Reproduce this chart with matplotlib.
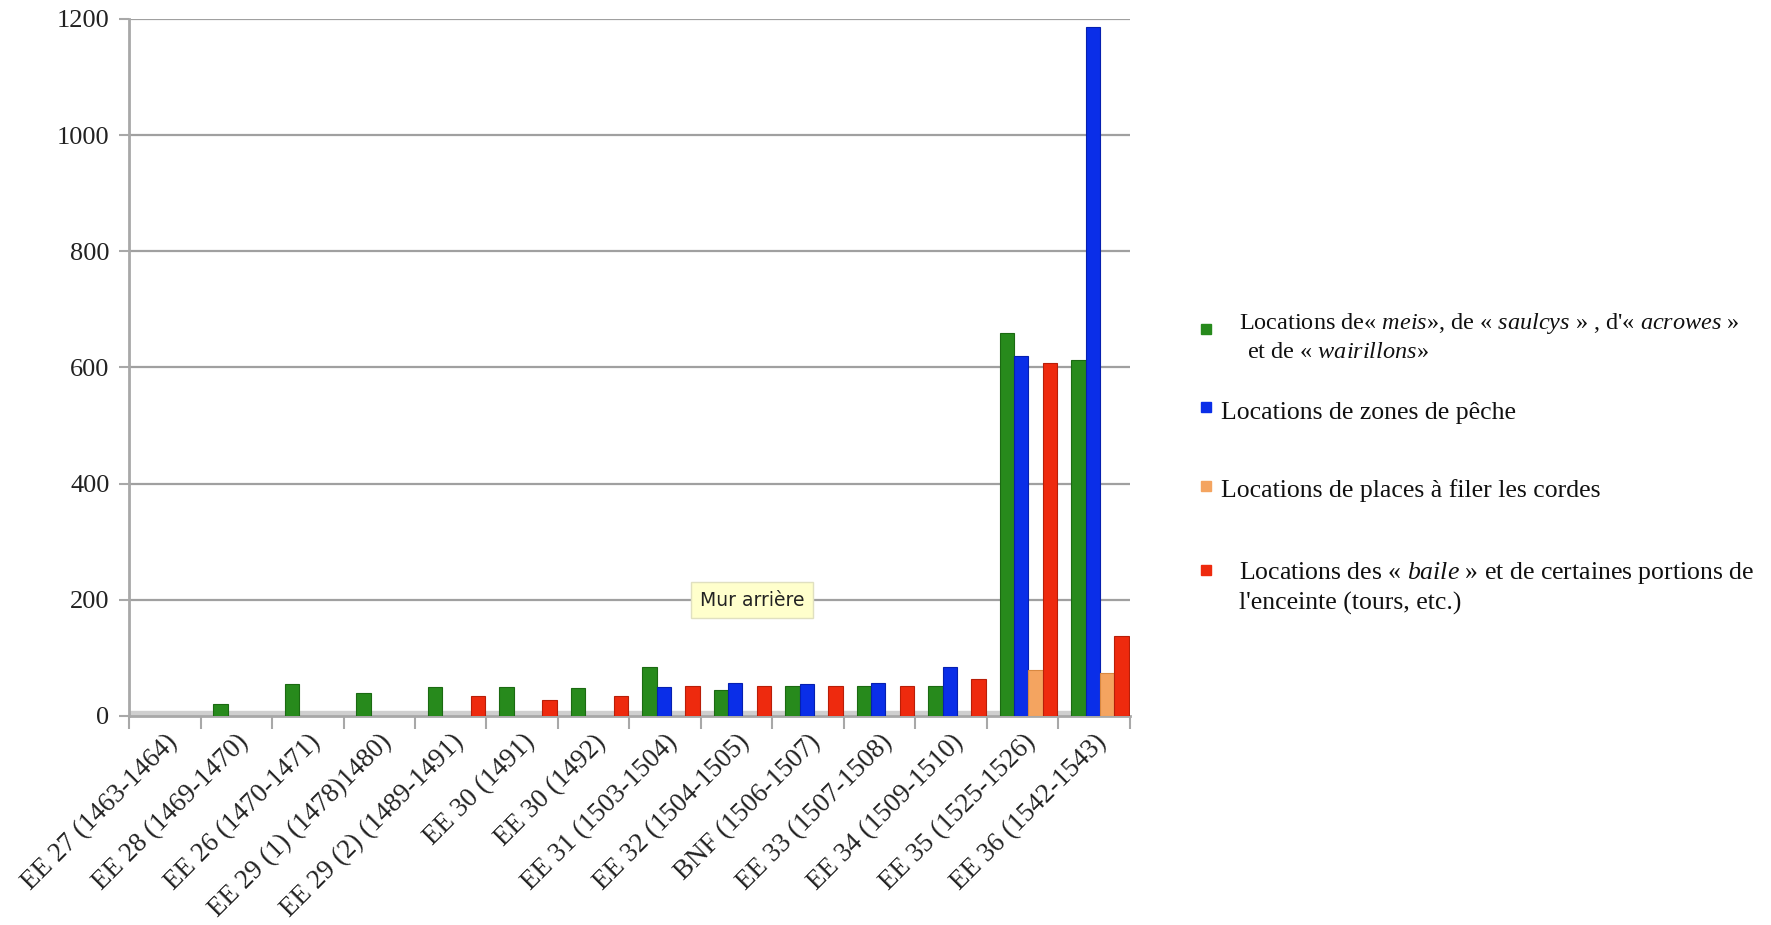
import numpy as np
import matplotlib
matplotlib.use('Agg')
import matplotlib.pyplot as plt
from matplotlib.patches import Rectangle

plt.rcParams['font.family'] = ['Liberation Serif', 'DejaVu Serif']
plt.rcParams['mathtext.fontset'] = 'custom'
plt.rcParams['mathtext.it'] = 'Liberation Serif:style=italic'
plt.rcParams['mathtext.rm'] = 'Liberation Serif'

categories = ['EE 27 (1463-1464)', 'EE 28 (1469-1470)', 'EE 26 (1470-1471)',
              'EE 29 (1) (1478)1480)', 'EE 29 (2) (1489-1491)', 'EE 30 (1491)',
              'EE 30 (1492)', 'EE 31 (1503-1504)', 'EE 32 (1504-1505)',
              'BNF (1506-1507)', 'EE 33 (1507-1508)', 'EE 34 (1509-1510)',
              'EE 35 (1525-1526)', 'EE 36 (1542-1543)']

meis = [0, 20, 55, 40, 50, 50, 48, 84, 45, 52, 52, 52, 660, 613]
peche = [0, 0, 0, 0, 0, 0, 0, 50, 56, 55, 56, 84, 620, 1186]
cordes = [0, 0, 0, 0, 0, 0, 0, 0, 0, 0, 0, 0, 80, 74]
baile = [0, 0, 0, 0, 35, 27, 35, 52, 52, 52, 52, 64, 607, 138]

series = [meis, peche, cordes, baile]
colors = ['#278a1c', '#0a2ee8', '#f4a460', '#ee2a0e']
edges = ['#1b6a12', '#0620b0', '#d98840', '#b81e08']

fig = plt.figure(figsize=(17.71, 9.25), dpi=100)
ax = fig.add_axes([129 / 1771, 1 - 716 / 925, 1001 / 1771, 697 / 925])

x = np.arange(len(categories))
w = 0.2
offsets = [-0.3, -0.1, 0.1, 0.3]
shift = 0.08

# floor of the 3D chart
ax.axhspan(0, 9, color='#cfcfcf', zorder=1)

for vals, off, c, ec in zip(series, offsets, colors, edges):
    v = np.array(vals, dtype=float)
    m = v > 0
    ax.bar(x[m] + off + shift, v[m], width=w, color=c, edgecolor=ec,
           linewidth=0.8, zorder=3)

ax.set_xlim(-0.5, len(categories) - 0.5)
ax.set_ylim(0, 1200)
ax.set_yticks(range(0, 1201, 200))
ax.yaxis.grid(True, color='#a0a0a0', linewidth=1.6, zorder=0)
ax.set_axisbelow(True)

for s in ['top', 'right']:
    ax.spines[s].set_visible(False)
ax.spines['left'].set_color('#a8a8a8')
ax.spines['left'].set_linewidth(2)
ax.spines['bottom'].set_color('#a8a8a8')
ax.spines['bottom'].set_linewidth(2)

ax.tick_params(axis='y', labelsize=19, colors='#a8a8a8', labelcolor='#222222',
               length=7, width=1.5, pad=7)
ax.set_xticks(x)
ax.set_xticklabels(categories, rotation=45, ha='right', rotation_mode='anchor',
                   fontsize=19.5, color='#222222')
ax.tick_params(axis='x', length=0, pad=10)
ax.set_xticks(np.arange(-0.5, len(categories)), minor=True)
ax.tick_params(axis='x', which='minor', length=9, width=1.5, color='#a8a8a8')

# tooltip
fig.text(752 / 1771, 1 - 600 / 925, 'Mur arri\u00e8re', family='DejaVu Sans',
         fontsize=13.5, ha='center', va='center', color='#222222',
         bbox=dict(boxstyle='square,pad=0.45', facecolor='#ffffcc',
                   edgecolor='#e0e0c0'))

# legend
def sq(xp, yp, c):
    fig.patches.append(Rectangle((xp / 1771 - 5 / 1771, 1 - yp / 925 - 5 / 925),
                                 10 / 1771, 10 / 925, color=c,
                                 transform=fig.transFigure))

def txt(xp, yp, s, size=18.5):
    fig.text(xp / 1771, 1 - yp / 925, s, fontsize=size, ha='left', va='center',
             color='#111111')

sq(1206, 329, colors[0])
txt(1239, 324, "Locations de\u00ab $\\it{meis}$\u00bb, de \u00ab $\\it{saulcys}$ \u00bb , d'\u00ab $\\it{acrowes}$ \u00bb", 17.5)
txt(1247, 353, "et de \u00ab $\\it{wairillons}$\u00bb", 17.5)
sq(1206, 407, colors[1])
txt(1221, 413, 'Locations de zones de p\u00eache')
sq(1206, 486, colors[2])
txt(1221, 491, 'Locations de places \u00e0 filer les cordes')
sq(1206, 570, colors[3])
txt(1239, 573, "Locations des \u00ab $\\it{baile}$ \u00bb et de certaines portions de")
txt(1239, 603, "l'enceinte (tours, etc.)")

fig.savefig('out.png', dpi=100)
